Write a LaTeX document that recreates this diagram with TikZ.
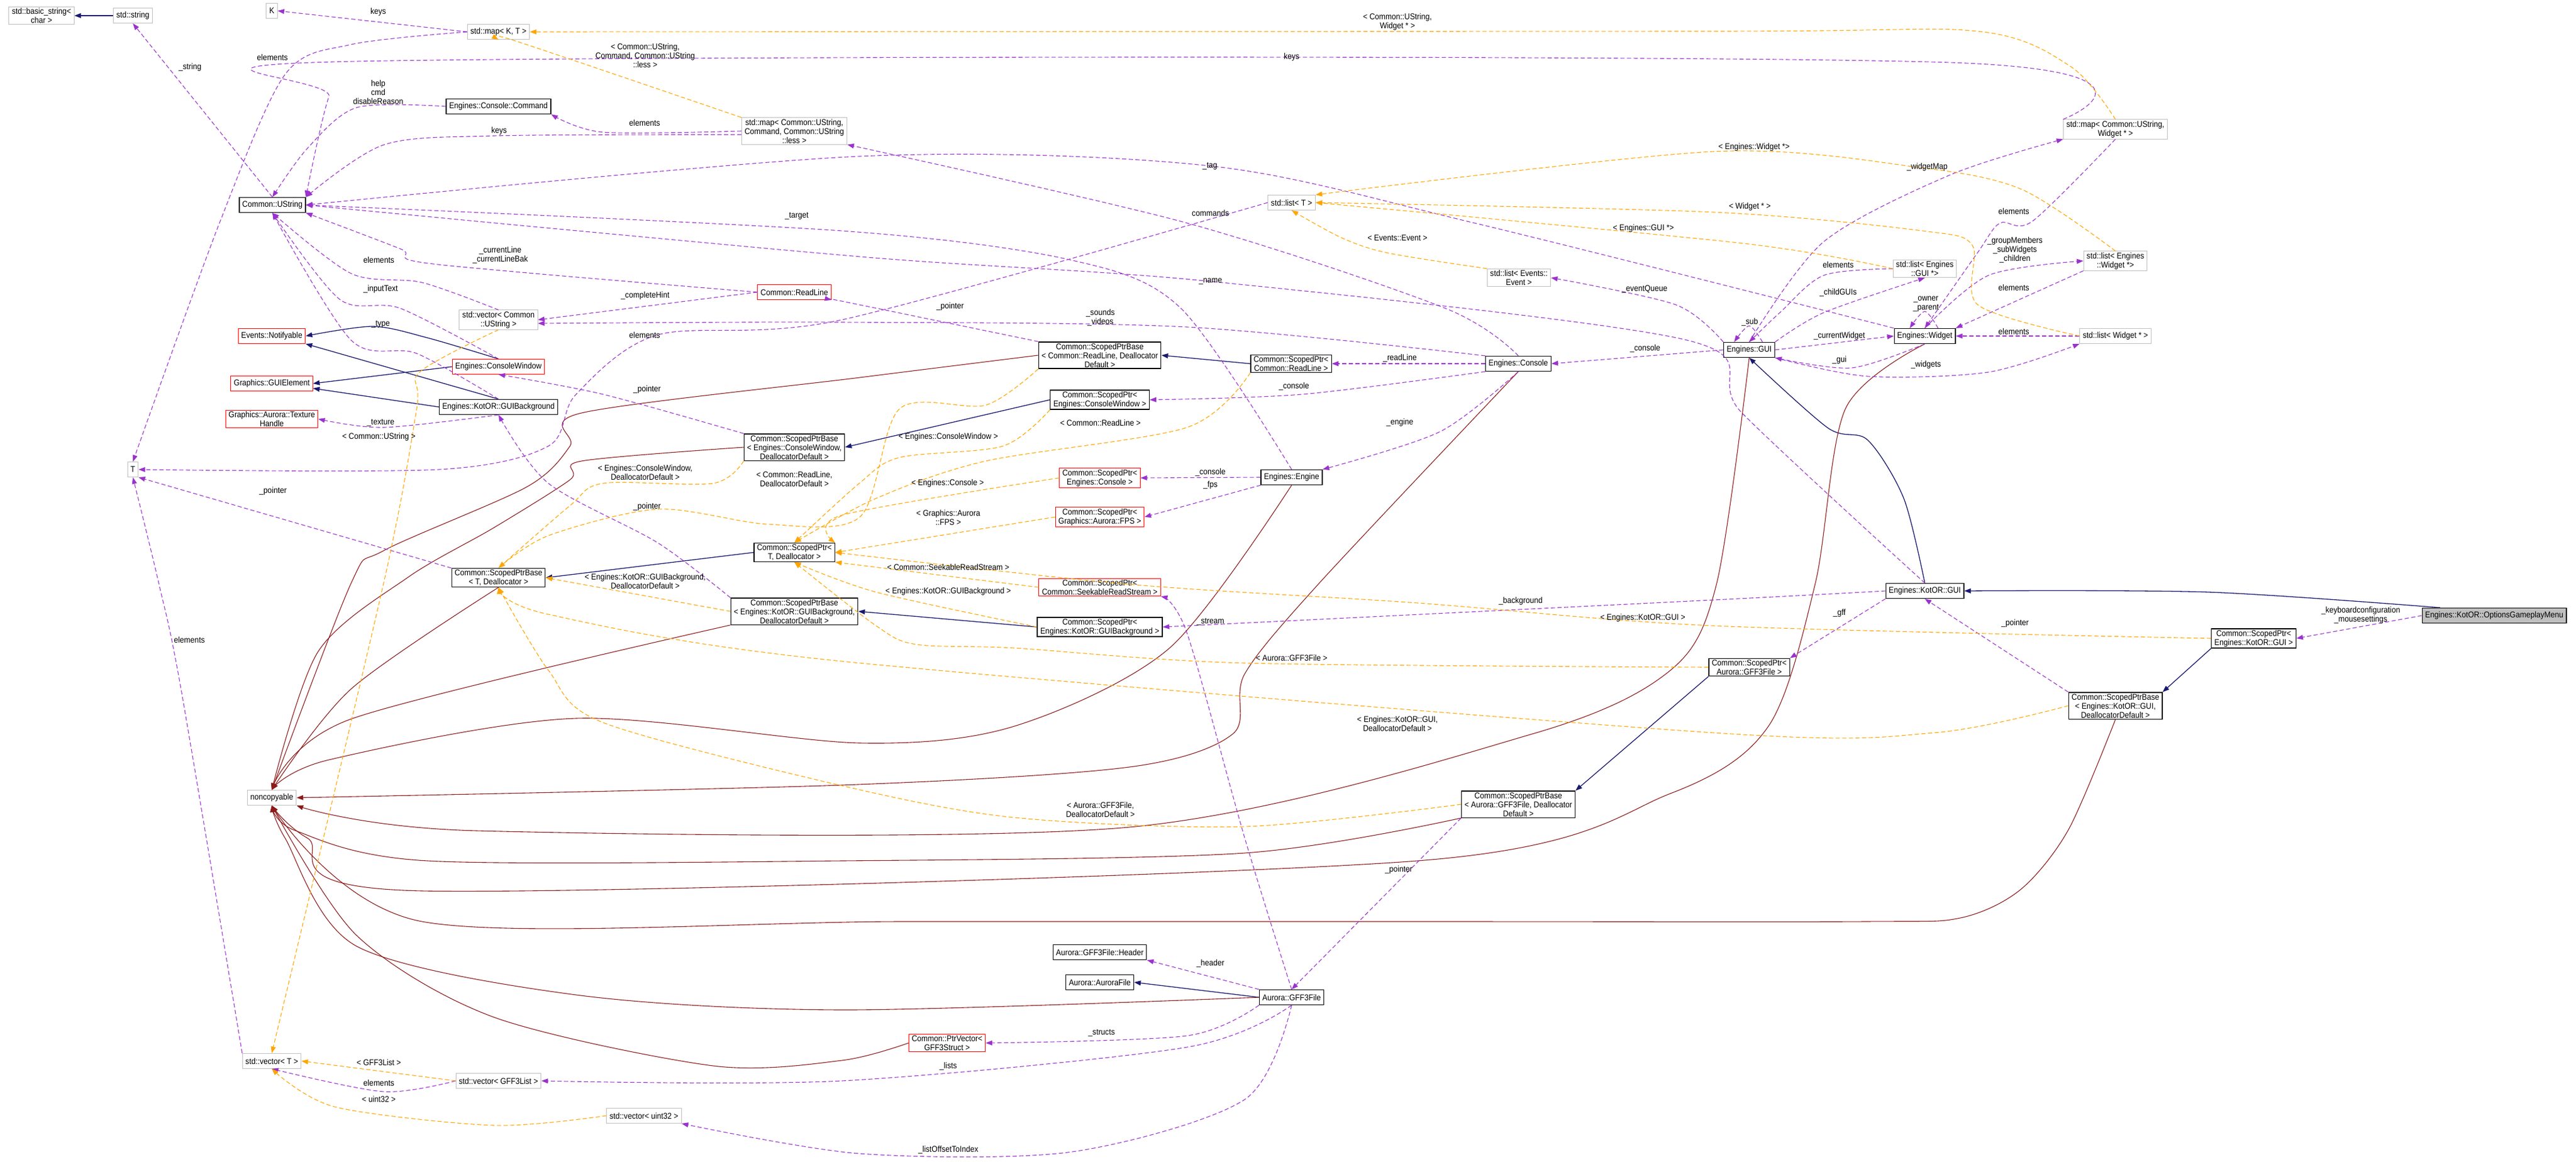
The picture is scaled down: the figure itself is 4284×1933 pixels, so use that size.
\documentclass[tikz,border=0pt]{standalone}
\usepackage{fontspec}
\setmainfont[FakeStretch=0.9]{Liberation Sans}
\usetikzlibrary{arrows.meta}
\definecolor{memcol}{HTML}{9A32CD}
\definecolor{tplcol}{HTML}{FFA500}
\definecolor{inhcol}{HTML}{191970}
\definecolor{nccol}{HTML}{8B1A1A}
\definecolor{tplbox}{HTML}{BFBFBF}
\newcommand{\route}[2]{\draw[#1] plot[smooth,tension=0.5] coordinates {#2};}
\tikzset{
	box/.style={draw,line width=1.3pt,minimum height=25pt,inner xsep=5pt,inner ysep=2pt,align=center},
	cls/.style={box},
	tpl/.style={box,draw=tplbox,line width=1pt},
	undoc/.style={box,draw=red,line width=1pt},
	focus/.style={box,fill=tplbox},
	lbl/.style={inner sep=0pt,align=center},
	tip/.style={-{Triangle[length=11pt,width=8pt]}},
	mem/.style={tip,draw=memcol,dash pattern=on 7pt off 4pt,line width=1.1pt},
	inst/.style={tip,draw=tplcol,dash pattern=on 7pt off 4pt,line width=1.1pt},
	inh/.style={tip,draw=inhcol,line width=1.3pt},
	ncp/.style={tip,draw=nccol,line width=1.1pt}
}

\begin{document}
\begin{tikzpicture}[x=1pt,y=-1pt,font=\fontsize{14}{15}\selectfont]
	\useasboundingbox (0,0) rectangle (4284,1933);
	% classes and templates
	\node[tpl] (bstr) at (69,26) {std::basic\_string<\\ char >};
	\node[tpl] (str) at (221,26) {std::string};
	\node[tpl] (K) at (452,18) {K};
	\node[tpl] (mapKT) at (829,53) {std::map< K, T >};
	\node[cls] (cmd) at (829,177) {Engines::Console::Command};
	\node[tpl] (mapcmd) at (1321,218) {std::map< Common::UString,\\ Command, Common::UString\\ ::less >};
	\node[cls] (ustr) at (453,341) {Common::UString};
	\node[undoc] (readline) at (1321,486) {Common::ReadLine};
	\node[tpl] (vecustr) at (829,532) {std::vector< Common\\ ::UString >};
	\node[undoc] (notif) at (452,559) {Events::Notifyable};
	\node[undoc] (conwin) at (829,610) {Engines::ConsoleWindow};
	\node[undoc] (guielem) at (452,638) {Graphics::GUIElement};
	\node[cls] (guibg) at (829,677) {Engines::KotOR::GUIBackground};
	\node[undoc] (texh) at (452,697) {Graphics::Aurora::Texture\\ Handle};
	\node[tpl] (T) at (221,781) {T};
	\node[cls] (spbcw) at (1321,744) {Common::ScopedPtrBase\\ < Engines::ConsoleWindow,\\ DeallocatorDefault >};
	\node[cls] (sptd) at (1321,919) {Common::ScopedPtr<\\ T, Deallocator >};
	\node[cls] (spbtd) at (829,961) {Common::ScopedPtrBase\\ < T, Deallocator >};
	\node[tpl] (listT) at (2148,337) {std::list< T >};
	\node[tpl] (listev) at (2526,462) {std::list< Events::\\ Event >};
	\node[cls] (spbrl) at (1829,591) {Common::ScopedPtrBase\\ < Common::ReadLine, Deallocator\\ Default >};
	\node[cls] (sprl) at (2147,605) {Common::ScopedPtr<\\ Common::ReadLine >};
	\node[cls] (console) at (2525,605) {Engines::Console};
	\node[cls] (spcw) at (1829,665) {Common::ScopedPtr<\\ Engines::ConsoleWindow >};
	\node[cls] (engine) at (2148,794) {Engines::Engine};
	\node[undoc] (spcon) at (1829,795) {Common::ScopedPtr<\\ Engines::Console >};
	\node[undoc] (spfps) at (1829,860) {Common::ScopedPtr<\\ Graphics::Aurora::FPS >};
	\node[undoc] (spsrs) at (1829,977) {Common::ScopedPtr<\\ Common::SeekableReadStream >};
	\node[cls] (gui) at (2909,582) {Engines::GUI};
	\node[tpl] (mapwid) at (3518,215) {std::map< Common::UString,\\ Widget * >};
	\node[tpl] (listewid) at (3518,434) {std::list< Engines\\ ::Widget *>};
	\node[tpl] (listgui) at (3201,447) {std::list< Engines\\ ::GUI *>};
	\node[cls] (widget) at (3201,559) {Engines::Widget};
	\node[tpl] (listwid) at (3518,559) {std::list< Widget * >};
	\node[cls] (kgui) at (3201,983) {Engines::KotOR::GUI};
	\node[focus] (ogm) at (4148,1024) {Engines::KotOR::OptionsGameplayMenu};
	\node[cls] (spkgui) at (3748,1062) {Common::ScopedPtr<\\ Engines::KotOR::GUI >};
	\node[cls] (spbkgui) at (3518,1174) {Common::ScopedPtrBase\\ < Engines::KotOR::GUI,\\ DeallocatorDefault >};
	\node[cls] (spgff) at (2909,1110) {Common::ScopedPtr<\\ Aurora::GFF3File >};
	\node[cls] (spbg) at (1829,1043) {Common::ScopedPtr<\\ Engines::KotOR::GUIBackground >};
	\node[cls] (spbbg) at (1321,1017) {Common::ScopedPtrBase\\ < Engines::KotOR::GUIBackground,\\ DeallocatorDefault >};
	\node[cls] (spbgff) at (2525,1338) {Common::ScopedPtrBase\\ < Aurora::GFF3File, Deallocator\\ Default >};
	\node[cls] (header) at (1829,1584) {Aurora::GFF3File::Header};
	\node[cls] (aurfile) at (1829,1634) {Aurora::AuroraFile};
	\node[cls] (gff) at (2148,1659) {Aurora::GFF3File};
	\node[undoc] (ptrvec) at (1575,1735) {Common::PtrVector<\\ GFF3Struct >};
	\node[tpl] (noncopy) at (452,1327) {noncopyable};
	\node[tpl] (vecT) at (452,1765) {std::vector< T >};
	\node[tpl] (veclist) at (829,1798) {std::vector< GFF3List >};
	\node[tpl] (vecu32) at (1071,1856) {std::vector< uint32 >};

	% inheritance
	\draw[inh] (str) -- (bstr);
	\route{inh}{(conwin.north) (711,562) (620,543) (notif.east)}
	\draw[inh] (conwin.west) -- (guielem.east);
	\draw[inh] (guibg.north) -- (notif.south east);
	\draw[inh] (guibg.west) -- ([yshift=-8pt]guielem.east);
	\draw[inh] (sprl.west) -- (spbrl.east);
	\draw[inh] (spcw.west) -- (spbcw.east);
	\draw[inh] (sptd.west) -- (spbtd.east);
	\draw[inh] (spbg.west) -- (spbbg.east);
	\route{inh}{([xshift=-90pt]ogm.north) (3673,985) (kgui.east)}
	\route{inh}{(kgui.north) (3166,829) (3106,732) (3040,712) (gui.south)}
	\draw[inh] (spkgui.south west) -- (spbkgui.north east);
	\draw[inh] (spgff.south west) -- (spbgff.north east);
	\draw[inh] (gff.west) -- (aurfile.east);

	% noncopyable
	\route{ncp}{(spbrl.west) (1430,628) (967,687) (948,742) (876,810) (638,916) (584,970) (noncopy.north)}
	\route{ncp}{(spbcw.west) (967,767) (948,798) (821,878) (679,960) (529,1084) (noncopy.north)}
	\route{ncp}{(spbtd.south) (584,1146) (noncopy.north)}
	\route{ncp}{(spbbg.south west) (584,1196) (noncopy.north)}
	\route{ncp}{(engine.south) (1945,1078) (1687,1208) (1430,1236) (958,1195) (547,1264) (noncopy.north)}
	\route{ncp}{(console.south) (2194,970) (2070,1121) (2050,1221) (1878,1276) (1400,1306) (noncopy.east)}
	\route{ncp}{(gui.south) (2855,970) (2778,1115) (2548,1221) (1878,1376) (793,1382) (noncopy.south east)}
	\route{ncp}{(widget.south) (3069,680) (3019,970) (2941,1208) (2778,1320) (2357,1432) (702,1482) (511,1394) (noncopy.south)}
	\route{ncp}{(spbkgui.south) (3440,1380) (3360,1480) (3260,1527) (3100,1533) (2400,1533) (1500,1533) (702,1533) (noncopy.south)}
	\route{ncp}{(spbgff.south west) (2070,1419) (1400,1432) (711,1432) (492,1382) (noncopy.south)}
	\route{ncp}{(gff.west) (1400,1680) (958,1655) (593,1574) (474,1394) (noncopy.south)}
	\route{ncp}{(ptrvec.west) (1400,1764) (1186,1773) (821,1692) (593,1556) (noncopy.south)}

	% members
	\draw[mem] (mapKT.west) -- (K.east);
	\route{mem}{(mapKT.west) (584,74) (474,124) (365,371) (T.north)}
	\route{mem}{(ustr.north) (str.south)}
	\route{mem}{(cmd.west) (593,179) (511,247) (ustr.north)}
	\route{mem}{(mapcmd.west) (1003,220) (cmd.south east)}
	\route{mem}{([yshift=-6pt]mapcmd.west) (821,226) (638,241) (ustr.north east)}
	\route{mem}{(mapwid.north west) (3243,104) (593,102) (547,161) (ustr.north east)}
	\route{mem}{(widget.north west) (2452,371) (2012,276) (1430,260) (ustr.east)}
	\route{mem}{(kgui.north) (2897,687) (2806,566) (2012,468) (1430,427) (ustr.east)}
	\route{mem}{(engine.north) (1964,513) (1783,433) (1400,384) (ustr.east)}
	\route{mem}{(readline.west) (720,439) (666,414) (ustr.south east)}
	\route{mem}{(vecustr.north) (702,470) (584,455) (ustr.south)}
	\route{mem}{(conwin.north) (666,513) (565,498) (ustr.south)}
	\route{mem}{(guibg.north) (693,588) (584,566) (ustr.south)}
	\draw[mem] (readline.west) -- (vecustr.east);
	\route{mem}{(console.north west) (1974,544) (1400,536) ([yshift=-6pt]vecustr.east)}
	\route{mem}{(console.north) (2404,513) (1974,371) (mapcmd.south east)}
	\route{mem}{(listT.west) (1400,532) (1094,557) (958,656) (912,742) (730,781) (T.east)}
	\route{mem}{(spbrl.north west) (1400,501) (readline.south east)}
	\route{mem}{(spbcw.north west) (1003,656) (conwin.south)}
	\route{mem}{(spbtd.north west) (T.south east)}
	\route{mem}{(spbbg.north west) (1094,903) (912,804) (guibg.south)}
	\route{mem}{(guibg.south) (638,711) (texh.east)}
	\draw[mem] (console.west) -- (sprl.east);
	\route{mem}{(console.south west) (2165,656) (spcw.east)}
	\route{mem}{(console.south) (2395,718) (engine.north east)}
	\draw[mem] (gui.west) -- (console.east);
	\draw[mem] (engine.west) -- (spcon.east);
	\draw[mem] (engine.south west) -- (spfps.east);
	\route{mem}{(gui.north west) (2787,507) (listev.east)}
	\route{mem}{(gui.north) (3033,402) (3243,291) (mapwid.south west)}
	\route{mem}{(gui.north east) (3033,520) (listgui.south)}
	\route{mem}{(listgui.west) (3033,458) (2960,520) (gui.north)}
	\route{mem}{([xshift=22pt]gui.north) (2909,542) ([xshift=-25pt]gui.north)}
	\draw[mem] (gui.east) -- (widget.west);
	\route{mem}{(widget.south) (3079,612) (gui.south east)}
	\route{mem}{(gui.south east) (3106,626) (3307,619) (listwid.south west)}
	\route{mem}{([xshift=22pt]widget.north) (3201,518) ([xshift=-25pt]widget.north)}
	\route{mem}{(widget.north) (3307,458) (listewid.west)}
	\route{mem}{(listewid.south west) (widget.north east)}
	\draw[mem] (listwid.west) -- (widget.east);
	\route{mem}{(mapwid.south) (3380,368) (3326,371) (3289,420) (widget.north)}
	\route{mem}{(kgui.west) (2850,998) (spbg.east)}
	\route{mem}{(gff.north) (2070,1394) (1974,1053) (spsrs.south east)}
	\draw[mem] (kgui.south west) -- (spgff.north east);
	\draw[mem] (spbkgui.north west) -- (kgui.south);
	\draw[mem] (ogm.west) -- (spkgui.east);
	\draw[mem] (spbgff.south west) -- (gff.north);
	\draw[mem] (gff.north west) -- (header.south east);
	\route{mem}{(gff.south west) (1974,1723) (ptrvec.east)}
	\route{mem}{(gff.south) (1974,1742) (1400,1798) (veclist.east)}
	\route{mem}{(gff.south) (2070,1829) (1783,1916) (1430,1919) (vecu32.south east)}
	\route{mem}{(veclist.west) (638,1816) (vecT.south)}
	\route{mem}{(vecT.north west) (301,1146) (264,970) (T.south)}

	% template instances
	\route{inst}{(mapwid.north) (3444,111) (3289,52) (2850,52) (mapKT.east)}
	\route{inst}{(mapcmd.north west) (857,68) (mapKT.south)}
	\route{inst}{(listev.north west) (2309,421) (2232,396) (listT.south)}
	\route{inst}{(listgui.west) (2900,405) (listT.east)}
	\route{inst}{(listewid.north) (3362,315) (3188,278) (2850,252) (listT.north east)}
	\route{inst}{(listwid.west) (3289,507) (3280,408) (3197,384) (2850,353) (listT.east)}
	\route{inst}{(vecustr.south) (698,619) (693,680) (638,970) (vecT.north)}
	\draw[inst] (veclist.west) -- (vecT.east);
	\route{inst}{(vecu32.west) (821,1872) (556,1841) (vecT.south)}
	\route{inst}{(sprl.south west) (1974,711) (1639,767) (1457,829) (sptd.north)}
	\route{inst}{(spcw.south west) (1668,742) (1496,761) (1429,804) (sptd.north)}
	\route{inst}{(spcon.west) (1400,857) (sptd.north east)}
	\draw[inst] (spfps.west) -- (sptd.east);
	\draw[inst] (spsrs.west) -- (sptd.south east);
	\route{inst}{(spbg.west) (1457,985) (sptd.south)}
	\route{inst}{(spgff.west) (2070,1103) (1687,1078) (1524,1072) (1457,1041) (sptd.south)}
	\route{inst}{(spkgui.west) (2850,1041) (2357,1003) (1878,972) (sptd.east)}
	\route{inst}{(spbrl.south west) (1639,674) (1496,680) (1430,860) (1277,872) (1094,847) (912,891) (spbtd.north)}
	\route{inst}{(spbcw.south west) (1186,804) (1003,804) (948,841) (spbtd.north)}
	\draw[inst] (spbbg.west) -- (spbtd.east);
	\route{inst}{(spbkgui.west) (3216,1219) (2850,1219) (1400,1100) (912,1022) (spbtd.south)}
	\route{inst}{(spbgff.west) (2070,1375) (1687,1360) (1400,1307) (1003,1202) (912,1115) (spbtd.south)}

	% edge labels
	\node[lbl] at (629,20) {keys};
	\node[lbl] at (453,95) {elements};
	\node[lbl] at (316,112) {\_string};
	\node[lbl] at (1073,92) {< Common::UString,\\ Command, Common::UString\\ ::less >};
	\node[lbl] at (629,153) {help\\ cmd\\ disableReason};
	\node[lbl] at (1072,204) {elements};
	\node[lbl] at (830,218) {keys};
	\node[lbl] at (1325,359) {\_target};
	\node[lbl] at (832,424) {\_currentLine\\ \_currentLineBak};
	\node[lbl] at (630,432) {elements};
	\node[lbl] at (633,481) {\_inputText};
	\node[lbl] at (1073,492) {\_completeHint};
	\node[lbl] at (1072,557) {elements};
	\node[lbl] at (633,539) {\_type};
	\node[lbl] at (1076,648) {\_pointer};
	\node[lbl] at (633,703) {\_texture};
	\node[lbl] at (630,727) {< Common::UString >};
	\node[lbl] at (1073,786) {< Engines::ConsoleWindow,\\ DeallocatorDefault >};
	\node[lbl] at (1321,797) {< Common::ReadLine,\\ DeallocatorDefault >};
	\node[lbl] at (1076,843) {\_pointer};
	\node[lbl] at (454,817) {\_pointer};
	\node[lbl] at (1073,967) {< Engines::KotOR::GUIBackground,\\ DeallocatorDefault >};
	\node[lbl] at (2324,36) {< Common::UString,\\ Widget * >};
	\node[lbl] at (2148,95) {keys};
	\node[lbl] at (2012,276) {\_tag};
	\node[lbl] at (2013,354) {commands};
	\node[lbl] at (2324,396) {< Events::Event >};
	\node[lbl] at (2733,380) {< Engines::GUI *>};
	\node[lbl] at (2013,468) {\_name};
	\node[lbl] at (2735,481) {\_eventQueue};
	\node[lbl] at (1580,510) {\_pointer};
	\node[lbl] at (1830,528) {\_sounds\\ \_videos};
	\node[lbl] at (2736,580) {\_console};
	\node[lbl] at (2328,596) {\_readLine};
	\node[lbl] at (2152,643) {\_console};
	\node[lbl] at (1830,703) {< Common::ReadLine >};
	\node[lbl] at (2328,703) {\_engine};
	\node[lbl] at (1577,727) {< Engines::ConsoleWindow >};
	\node[lbl] at (2013,786) {\_console};
	\node[lbl] at (2013,807) {\_fps};
	\node[lbl] at (1576,804) {< Engines::Console >};
	\node[lbl] at (1577,861) {< Graphics::Aurora\\ ::FPS >};
	\node[lbl] at (1577,943) {< Common::SeekableReadStream >};
	\node[lbl] at (2917,245) {< Engines::Widget *>};
	\node[lbl] at (3205,278) {\_widgetMap};
	\node[lbl] at (2910,344) {< Widget * >};
	\node[lbl] at (3349,351) {elements};
	\node[lbl] at (3351,416) {\_groupMembers\\ \_subWidgets\\ \_children};
	\node[lbl] at (3057,440) {elements};
	\node[lbl] at (3349,478) {elements};
	\node[lbl] at (3057,487) {\_childGUIs};
	\node[lbl] at (3203,506) {\_owner\\ \_parent};
	\node[lbl] at (2910,536) {\_sub};
	\node[lbl] at (3059,559) {\_currentWidget};
	\node[lbl] at (3349,551) {elements};
	\node[lbl] at (3059,599) {\_gui};
	\node[lbl] at (3203,607) {\_widgets};
	\node[lbl] at (1577,984) {< Engines::KotOR::GUIBackground >};
	\node[lbl] at (2529,1000) {\_background};
	\node[lbl] at (2013,1034) {\_stream};
	\node[lbl] at (2732,1028) {< Engines::KotOR::GUI >};
	\node[lbl] at (2148,1094) {< Aurora::GFF3File >};
	\node[lbl] at (2324,1204) {< Engines::KotOR::GUI,\\ DeallocatorDefault >};
	\node[lbl] at (1830,1347) {< Aurora::GFF3File,\\ DeallocatorDefault >};
	\node[lbl] at (2326,1447) {\_pointer};
	\node[lbl] at (2013,1603) {\_header};
	\node[lbl] at (1832,1718) {\_structs};
	\node[lbl] at (1577,1774) {\_lists};
	\node[lbl] at (1577,1913) {\_listOffsetToIndex};
	\node[lbl] at (3059,1020) {\_gff};
	\node[lbl] at (3351,1037) {\_pointer};
	\node[lbl] at (3926,1023) {\_keyboardconfiguration\\ \_mousesettings};
	\node[lbl] at (315,1064) {elements};
	\node[lbl] at (630,1767) {< GFF3List >};
	\node[lbl] at (630,1801) {elements};
	\node[lbl] at (630,1828) {< uint32 >};
\end{tikzpicture}
\end{document}
